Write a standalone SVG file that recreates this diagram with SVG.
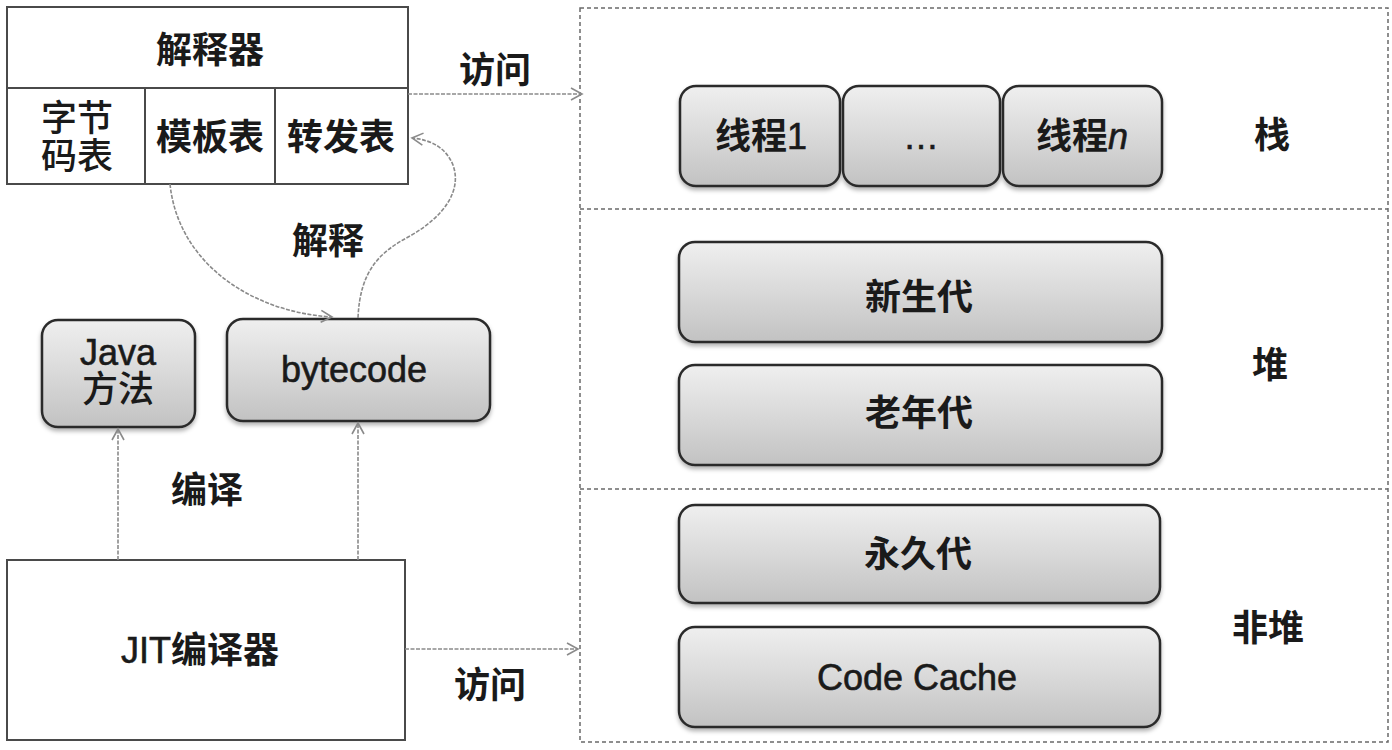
<svg xmlns="http://www.w3.org/2000/svg" width="1392" height="750" viewBox="0 0 1392 750">
<style>
  .t { font-family: "Liberation Sans", "Noto Sans CJK SC", sans-serif; font-size: 36px; fill: #1a1a1a; text-anchor: middle; dominant-baseline: central; }
  .cn { font-weight: 700; }
  .cnl { font-weight: 500; }
  .lat { font-weight: 400; stroke: #1a1a1a; stroke-width: 0.6; }
  .plain { fill: #ffffff; stroke: #4a4a4a; stroke-width: 2; }
  .rbox { fill: url(#g); stroke: #2a2a2a; stroke-width: 2.5; filter: url(#sh); }
  .conn { fill: none; stroke: #8a8a8a; stroke-width: 1.6; stroke-dasharray: 4 1.5; }
  .dash { fill: none; stroke: #6a6a6a; stroke-width: 1.5; stroke-dasharray: 4 3; }
</style>
<defs>
  <linearGradient id="g" x1="0" y1="0" x2="0" y2="1">
    <stop offset="0" stop-color="#efefef"/>
    <stop offset="0.5" stop-color="#d9d9d9"/>
    <stop offset="1" stop-color="#c2c2c2"/>
  </linearGradient>
  <filter id="sh" x="-10%" y="-10%" width="120%" height="130%">
    <feDropShadow dx="0" dy="3" stdDeviation="2" flood-color="#000" flood-opacity="0.3"/>
  </filter>
  <marker id="ah" markerWidth="14" markerHeight="14" refX="12" refY="7" orient="auto" markerUnits="userSpaceOnUse">
    <path d="M1,1 L12,7 L1,13" fill="none" stroke="#8a8a8a" stroke-width="1.6"/>
  </marker>
</defs>
<rect width="1392" height="750" fill="#ffffff"/>

<g id="memory">
  <rect class="dash" x="580" y="8" width="808" height="734"/>
  <line class="dash" x1="580" y1="209" x2="1388" y2="209"/>
  <line class="dash" x1="580" y1="489" x2="1388" y2="489"/>
  <text class="t cn" x="1272" y="135">栈</text>
  <text class="t cn" x="1270" y="365">堆</text>
  <text class="t cn" x="1268" y="628">非堆</text>
</g>

<g id="interpreter">
  <rect class="plain" x="7" y="7" width="401" height="177"/>
  <line x1="7" y1="88" x2="408" y2="88" stroke="#4a4a4a" stroke-width="2"/>
  <line x1="145" y1="88" x2="145" y2="184" stroke="#4a4a4a" stroke-width="2"/>
  <line x1="275" y1="88" x2="275" y2="184" stroke="#4a4a4a" stroke-width="2"/>
  <text class="t cn" x="210" y="50">解释器</text>
  <text class="t cnl" x="77" y="118" font-size="34">字节</text>
  <text class="t cnl" x="77" y="156" font-size="34">码表</text>
  <text class="t cn" x="210" y="137">模板表</text>
  <text class="t cn" x="341" y="137">转发表</text>
</g>

<g id="java-method">
  <rect class="rbox" x="42" y="320" width="153" height="107" rx="16"/>
  <text class="t lat" x="118" y="352">Java</text>
  <text class="t cnl" x="118" y="389">方法</text>
</g>

<g id="bytecode">
  <rect class="rbox" x="227" y="319" width="263" height="102" rx="16"/>
  <text class="t lat" x="354" y="369">bytecode</text>
</g>

<g id="jit">
  <rect class="plain" x="7" y="560" width="398" height="180"/>
  <text class="t" x="200" y="650"><tspan class="lat">JIT</tspan><tspan class="cn">编译器</tspan></text>
</g>

<g id="thread1">
  <rect class="rbox" x="680" y="86" width="160" height="100" rx="16"/>
  <text class="t cn" x="761" y="136">线程<tspan class="lat">1</tspan></text>
</g>
<g id="thread-dots">
  <rect class="rbox" x="843" y="86" width="157" height="100" rx="16"/>
  <text class="t lat" x="921" y="136" font-size="26">…</text>
</g>
<g id="threadn">
  <rect class="rbox" x="1003" y="86" width="159" height="100" rx="16"/>
  <text class="t cn" x="1082" y="136">线程<tspan class="lat" font-style="italic">n</tspan></text>
</g>

<g id="young">
  <rect class="rbox" x="679" y="242" width="483" height="100" rx="16"/>
  <text class="t cn" x="919" y="297">新生代</text>
</g>
<g id="old">
  <rect class="rbox" x="679" y="365" width="483" height="100" rx="16"/>
  <text class="t cn" x="919" y="413">老年代</text>
</g>
<g id="perm">
  <rect class="rbox" x="679" y="505" width="481" height="98" rx="16"/>
  <text class="t cn" x="918" y="554">永久代</text>
</g>
<g id="codecache">
  <rect class="rbox" x="679" y="627" width="481" height="100" rx="16"/>
  <text class="t lat" x="917" y="677">Code Cache</text>
</g>

<g id="connectors">
  <line class="conn" x1="408" y1="94" x2="582" y2="94" marker-end="url(#ah)"/>
  <line class="conn" x1="405" y1="649" x2="578" y2="649" marker-end="url(#ah)"/>
  <line class="conn" x1="118" y1="560" x2="118" y2="429" marker-end="url(#ah)"/>
  <line class="conn" x1="358" y1="560" x2="358" y2="423" marker-end="url(#ah)"/>
  <path class="conn" d="M170,184 C178,262 250,312 332,317" marker-end="url(#ah)"/>
  <path class="conn" d="M358,318 C360,270 380,252 410,236 C445,216 462,190 453,165 C446,148 432,140 412,138" marker-end="url(#ah)"/>
  <text class="t cn" x="495" y="70">访问</text>
  <text class="t cn" x="490" y="685">访问</text>
  <text class="t cn" x="207" y="490">编译</text>
  <text class="t cn" x="328" y="241">解释</text>
</g>
</svg>
